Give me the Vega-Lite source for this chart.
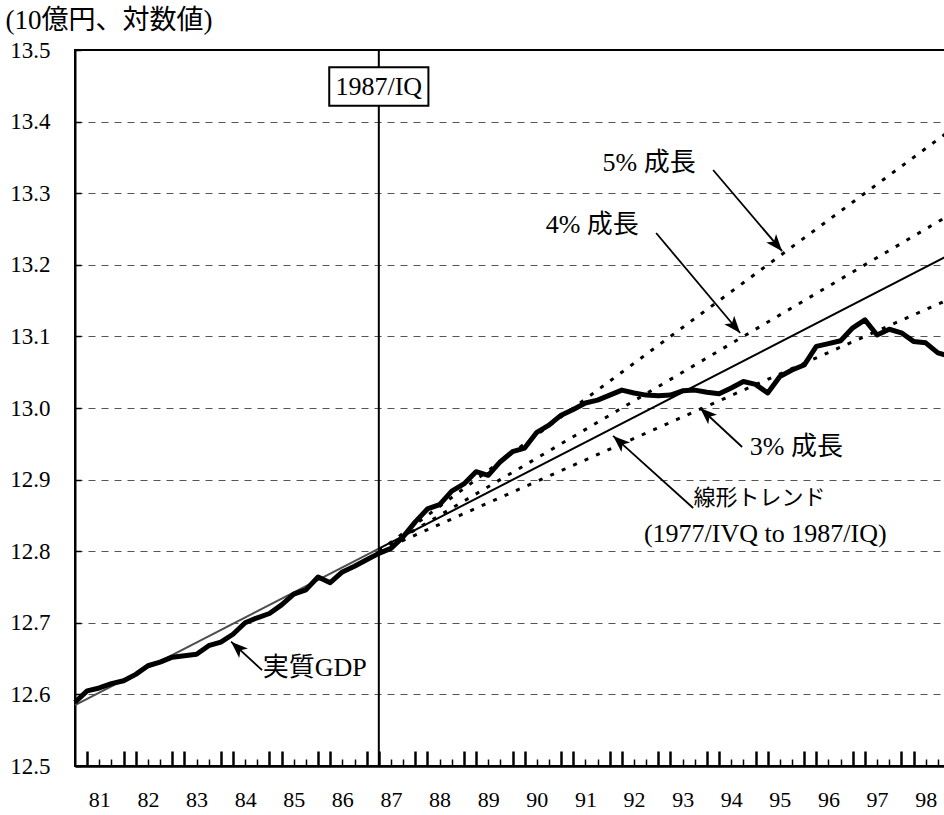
{
  "$schema": "https://vega.github.io/schema/vega-lite/v6.json",
  "autosize": {"type": "none"},
  "padding": {"left": 75, "top": 50, "right": 0, "bottom": 49},
  "width": 875,
  "height": 716,
  "background": "white",
  "config": {
    "view": {"stroke": "black", "strokeWidth": 2},
    "font": "'Liberation Serif', 'Noto Sans CJK JP', serif",
    "text": {"font": "'Liberation Serif', 'Noto Sans CJK JP', serif"}
  },
  "datasets": {
    "gdp": [
      {"t": 1980.75, "v": 12.589}, {"t": 1981.0, "v": 12.605}, {"t": 1981.25, "v": 12.609}, {"t": 1981.5, "v": 12.615},
      {"t": 1981.75, "v": 12.619}, {"t": 1982.0, "v": 12.628}, {"t": 1982.25, "v": 12.640}, {"t": 1982.5, "v": 12.645},
      {"t": 1982.75, "v": 12.652}, {"t": 1983.0, "v": 12.654}, {"t": 1983.25, "v": 12.656}, {"t": 1983.5, "v": 12.668},
      {"t": 1983.75, "v": 12.673}, {"t": 1984.0, "v": 12.684}, {"t": 1984.25, "v": 12.700}, {"t": 1984.5, "v": 12.707},
      {"t": 1984.75, "v": 12.713}, {"t": 1985.0, "v": 12.725}, {"t": 1985.25, "v": 12.740}, {"t": 1985.5, "v": 12.746},
      {"t": 1985.75, "v": 12.764}, {"t": 1986.0, "v": 12.756}, {"t": 1986.25, "v": 12.771}, {"t": 1986.5, "v": 12.779},
      {"t": 1986.75, "v": 12.788}, {"t": 1987.0, "v": 12.797}, {"t": 1987.25, "v": 12.804}, {"t": 1987.5, "v": 12.820},
      {"t": 1987.75, "v": 12.841}, {"t": 1988.0, "v": 12.859}, {"t": 1988.25, "v": 12.865}, {"t": 1988.5, "v": 12.884},
      {"t": 1988.75, "v": 12.894}, {"t": 1989.0, "v": 12.911}, {"t": 1989.25, "v": 12.906}, {"t": 1989.5, "v": 12.925},
      {"t": 1989.75, "v": 12.939}, {"t": 1990.0, "v": 12.944}, {"t": 1990.25, "v": 12.966}, {"t": 1990.5, "v": 12.976},
      {"t": 1990.75, "v": 12.990}, {"t": 1991.0, "v": 12.998}, {"t": 1991.25, "v": 13.007}, {"t": 1991.5, "v": 13.011},
      {"t": 1991.75, "v": 13.018}, {"t": 1992.0, "v": 13.025}, {"t": 1992.25, "v": 13.021}, {"t": 1992.5, "v": 13.018},
      {"t": 1992.75, "v": 13.017}, {"t": 1993.0, "v": 13.018}, {"t": 1993.25, "v": 13.024}, {"t": 1993.5, "v": 13.025},
      {"t": 1993.75, "v": 13.022}, {"t": 1994.0, "v": 13.020}, {"t": 1994.25, "v": 13.028}, {"t": 1994.5, "v": 13.037},
      {"t": 1994.75, "v": 13.033}, {"t": 1995.0, "v": 13.021}, {"t": 1995.25, "v": 13.044}, {"t": 1995.5, "v": 13.053},
      {"t": 1995.75, "v": 13.060}, {"t": 1996.0, "v": 13.086}, {"t": 1996.25, "v": 13.090}, {"t": 1996.5, "v": 13.094},
      {"t": 1996.75, "v": 13.112}, {"t": 1997.0, "v": 13.123}, {"t": 1997.25, "v": 13.102}, {"t": 1997.5, "v": 13.110},
      {"t": 1997.75, "v": 13.105}, {"t": 1998.0, "v": 13.093}, {"t": 1998.25, "v": 13.091}, {"t": 1998.5, "v": 13.077},
      {"t": 1998.75, "v": 13.072}
    ],
    "trendfit": [
      {"t": 1980.75, "v": 12.585}, {"t": 1987.0, "v": 12.8035}
    ],
    "trendext": [
      {"t": 1987.0, "v": 12.8035}, {"t": 1998.75, "v": 13.2143}
    ],
    "growth": [
      {"series": "3%", "t": 1987.0, "v": 12.80}, {"series": "3%", "t": 1998.75, "v": 13.1525},
      {"series": "4%", "t": 1987.0, "v": 12.80}, {"series": "4%", "t": 1998.75, "v": 13.27},
      {"series": "5%", "t": 1987.0, "v": 12.80}, {"series": "5%", "t": 1998.75, "v": 13.3875}
    ],
    "labels": [
      {"text": "5% 成長", "t": 1992.56, "v": 13.342},
      {"text": "4% 成長", "t": 1991.39, "v": 13.255},
      {"text": "3% 成長", "t": 1995.59, "v": 12.945},
      {"text": "線形トレンド", "t": 1994.83, "v": 12.874},
      {"text": "(1977/IVQ to 1987/IQ)", "t": 1994.95, "v": 12.824},
      {"text": "実質GDP", "t": 1985.68, "v": 12.637}
    ],
    "arrows": [
      {"name": "5%", "t1": 1993.877, "v1": 13.3324, "t2": 1995.297, "v2": 13.219},
      {"name": "4%", "t1": 1992.705, "v1": 13.2444, "t2": 1994.433, "v2": 13.1047},
      {"name": "3%", "t1": 1994.474, "v1": 12.9455, "t2": 1993.61, "v2": 13.0},
      {"name": "trend", "t1": 1993.466, "v1": 12.8603, "t2": 1991.82, "v2": 12.961},
      {"name": "gdp", "t1": 1984.598, "v1": 12.634, "t2": 1983.96, "v2": 12.6736}
    ],
    "marker": [
      {"t": 1987.0, "t0": 1985.98, "t1": 1988.02, "v0": 13.422, "v1": 13.476, "label": "1987/IQ", "vm": 13.449}
    ]
  },
  "encoding": {
    "x": {
      "field": "t", "type": "quantitative",
      "scale": {"domain": [1980.75, 1998.75], "nice": false, "zero": false},
      "axis": {
        "title": null,
        "grid": false,
        "values": [1981, 1981.25, 1981.5, 1981.75, 1982, 1982.25, 1982.5, 1982.75, 1983, 1983.25, 1983.5, 1983.75, 1984, 1984.25, 1984.5, 1984.75, 1985, 1985.25, 1985.5, 1985.75, 1986, 1986.25, 1986.5, 1986.75, 1987, 1987.25, 1987.5, 1987.75, 1988, 1988.25, 1988.5, 1988.75, 1989, 1989.25, 1989.5, 1989.75, 1990, 1990.25, 1990.5, 1990.75, 1991, 1991.25, 1991.5, 1991.75, 1992, 1992.25, 1992.5, 1992.75, 1993, 1993.25, 1993.5, 1993.75, 1994, 1994.25, 1994.5, 1994.75, 1995, 1995.25, 1995.5, 1995.75, 1996, 1996.25, 1996.5, 1996.75, 1997, 1997.25, 1997.5, 1997.75, 1998, 1998.25, 1998.5, 1998.75],
        "labelExpr": "(datum.value % 1) == 0.25 ? '' + (floor(datum.value) % 100) : ''",
        "labelOverlap": false,
        "labelFlush": false,
        "labelFont": "'Liberation Serif', serif",
        "labelFontSize": 22,
        "labelColor": "black",
        "labelPadding": 30,
        "domainColor": "black",
        "domainWidth": 2.5,
        "tickColor": "black",
        "tickSize": {"condition": {"test": "(datum.value % 1) == 0 || (datum.value % 1) == 0.75", "value": -15}, "value": -7},
        "tickWidth": {"condition": {"test": "(datum.value % 1) == 0 || (datum.value % 1) == 0.75", "value": 2.5}, "value": 1.5}
      }
    },
    "y": {
      "field": "v", "type": "quantitative",
      "scale": {"domain": [12.5, 13.5], "nice": false, "zero": false},
      "axis": {
        "values": [12.5, 12.6, 12.7, 12.8, 12.9, 13.0, 13.1, 13.2, 13.3, 13.4, 13.5],
        "format": ".1f",
        "labelFont": "'Liberation Serif', serif",
        "labelFontSize": 23,
        "labelColor": "black",
        "labelPadding": 31,
        "domainColor": "black",
        "domainWidth": 2,
        "tickColor": "black",
        "tickSize": -6,
        "tickWidth": 1.5,
        "grid": true,
        "gridColor": "#555555",
        "gridDash": [7, 6],
        "gridWidth": 1.2,
        "gridOpacity": {"condition": {"test": "datum.value < 12.55 || datum.value > 13.45", "value": 0}, "value": 1},
        "title": "(10億円、対数値)",
        "titleFont": "'Liberation Serif', 'Noto Sans CJK JP', serif",
        "titleFontSize": 27,
        "titleFontWeight": "normal",
        "titleColor": "black",
        "titleAngle": 0,
        "titleAlign": "left",
        "titleBaseline": "middle",
        "titleX": -70,
        "titleY": -30
      }
    }
  },
  "layer": [
    {
      "data": {"name": "trendfit"},
      "mark": {"type": "line", "color": "#4d4d4d", "strokeWidth": 2},
      "encoding": {}
    },
    {
      "data": {"name": "trendext"},
      "mark": {"type": "line", "color": "black", "strokeWidth": 2},
      "encoding": {}
    },
    {
      "data": {"name": "growth"},
      "mark": {"type": "line", "color": "black", "strokeWidth": 3, "strokeDash": [4, 8.5], "strokeCap": "butt"},
      "encoding": {"detail": {"field": "series"}}
    },
    {
      "data": {"name": "gdp"},
      "mark": {"type": "line", "color": "black", "strokeWidth": 5, "strokeJoin": "round"},
      "encoding": {}
    },
    {
      "data": {"name": "marker"},
      "mark": {"type": "rule", "color": "black", "strokeWidth": 2},
      "encoding": {"y": null}
    },
    {
      "data": {"name": "marker"},
      "mark": {"type": "rect", "fill": "white", "stroke": "black", "strokeWidth": 2},
      "encoding": {
        "x": {"field": "t0", "type": "quantitative"},
        "x2": {"field": "t1"},
        "y": {"field": "v0", "type": "quantitative"},
        "y2": {"field": "v1"}
      }
    },
    {
      "data": {"name": "marker"},
      "mark": {"type": "text", "fontSize": 26, "color": "black", "align": "center", "baseline": "middle"},
      "encoding": {
        "y": {"field": "vm", "type": "quantitative"},
        "text": {"field": "label"}
      }
    },
    {
      "data": {"name": "labels"},
      "transform": [{"filter": "datum.text != '線形トレンド'"}],
      "mark": {"type": "text", "fontSize": 26, "color": "black", "align": "center", "baseline": "middle"},
      "encoding": {"text": {"field": "text"}}
    },
    {
      "data": {"name": "labels"},
      "transform": [{"filter": "datum.text == '線形トレンド'"}],
      "mark": {"type": "text", "fontSize": 22, "color": "black", "align": "center", "baseline": "middle"},
      "encoding": {"text": {"field": "text"}}
    },
    {
      "data": {"name": "arrows"},
      "mark": {"type": "rule", "color": "black", "strokeWidth": 1.8},
      "encoding": {
        "x": {"field": "t1", "type": "quantitative"},
        "y": {"field": "v1", "type": "quantitative"},
        "x2": {"field": "t2"},
        "y2": {"field": "v2"}
      }
    },
    {
      "data": {"name": "arrows"},
      "mark": {
        "type": "point", "filled": true, "color": "black", "opacity": 1, "size": 1156,
        "shape": "M0,0L-0.38,1L0,0.75L0.38,1Z",
        "angle": {"expr": "atan2(scale('x', datum.t2) - scale('x', datum.t1), scale('y', datum.v1) - scale('y', datum.v2)) * 180 / PI"}
      },
      "encoding": {
        "x": {"field": "t2", "type": "quantitative"},
        "y": {"field": "v2", "type": "quantitative"}
      }
    }
  ]
}
